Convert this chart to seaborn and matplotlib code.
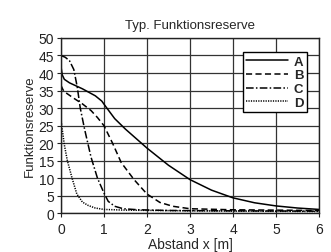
import matplotlib
matplotlib.use("Agg")
import matplotlib.pyplot as plt
import seaborn as sns
import pandas as pd

sns.set_theme(style="white")
plt.rcParams["font.family"] = ["Liberation Sans", "DejaVu Sans"]

# Data
a_x = [0, 0.03, 0.08, 0.2, 0.5, 0.8, 0.95, 1.05, 1.25, 1.5, 2.0, 2.5, 3.0, 3.5, 4.0, 4.5, 5.0, 5.5, 6.0]
a_y = [42, 39.5, 38.2, 37.2, 35.5, 33.5, 32, 30.3, 27, 24, 18.6, 13.7, 9.6, 6.6, 4.4, 3.0, 2.1, 1.5, 1.1]
b_x = [0, 0.05, 0.1, 0.3, 0.5, 0.7, 0.85, 1.0, 1.2, 1.4, 1.7, 2.0, 2.3, 2.6, 3.0, 4.0, 5.0, 6.0]
b_y = [36.5, 35.2, 34.5, 32.8, 31.2, 29.3, 27.3, 25, 20, 14.5, 9.6, 5.5, 3.1, 2.0, 1.3, 1.0, 0.9, 0.8]
c_x = [0, 0.1, 0.2, 0.3, 0.38, 0.45, 0.55, 0.7, 0.85, 1.0, 1.1, 1.25, 1.45, 1.8, 2.5, 4.0, 6.0]
c_y = [45, 44.5, 43.5, 41, 36, 30, 24, 16, 10, 5.8, 3.4, 2.0, 1.3, 1.0, 0.8, 0.7, 0.6]
d_x = [0, 0.03, 0.08, 0.15, 0.26, 0.37, 0.5, 0.64, 0.8, 1.0, 1.5, 3.0, 6.0]
d_y = [27, 24, 19.5, 15, 10, 5.5, 3.2, 2.2, 1.5, 1.1, 0.9, 0.7, 0.5]
labels = ["A", "B", "C", "D"]
title = "Typ. Funktionsreserve"
xlabel = "Abstand x [m]"
ylabel = "Funktionsreserve"

series = {"A": (a_x, a_y), "B": (b_x, b_y), "C": (c_x, c_y), "D": (d_x, d_y)}
styles = {"A": "-", "B": (0, (4, 2.2)), "C": (0, (5, 1.5, 1, 1.5)), "D": (0, (0.8, 0.8))}

fig = plt.figure(figsize=(3.31, 2.53), dpi=100)
ax = fig.add_axes([0.184, 0.153, 0.78, 0.693])

for lab in labels:
    xs, ys = series[lab]
    df = pd.DataFrame({"x": xs, "y": ys})
    sns.lineplot(data=df, x="x", y="y", ax=ax, color="black", lw=1.1,
                 linestyle=styles[lab], label=lab, sort=False)

ax.set_xlim(0, 6)
ax.set_ylim(0, 50)
ax.set_xticks(range(0, 7))
ax.set_yticks(range(0, 51, 5))
ax.grid(True, color="#333333", lw=0.9)
for s in ax.spines.values():
    s.set_color("#222222")
    s.set_linewidth(1.0)
ax.tick_params(axis="both", labelsize=10, length=3, width=0.8, direction="out",
               left=True, bottom=True, colors="#222222")
ax.tick_params(axis="x", pad=3)
ax.tick_params(axis="y", pad=2)
ax.set_title(title, fontsize=9.5, pad=7)
ax.set_xlabel(xlabel, fontsize=10, labelpad=1)
ax.set_ylabel(ylabel, fontsize=9.5, labelpad=2)

leg = ax.legend(loc="upper left", bbox_to_anchor=(0.705, 0.92), fontsize=9.5, frameon=True,
                fancybox=False, edgecolor="black", framealpha=1, handlelength=3.2,
                handletextpad=0.4, borderpad=0.25, labelspacing=0.12, borderaxespad=0)
leg.get_frame().set_linewidth(1.0)
for t in leg.get_texts():
    t.set_fontweight("bold")

fig.savefig("out.png", dpi=100)
